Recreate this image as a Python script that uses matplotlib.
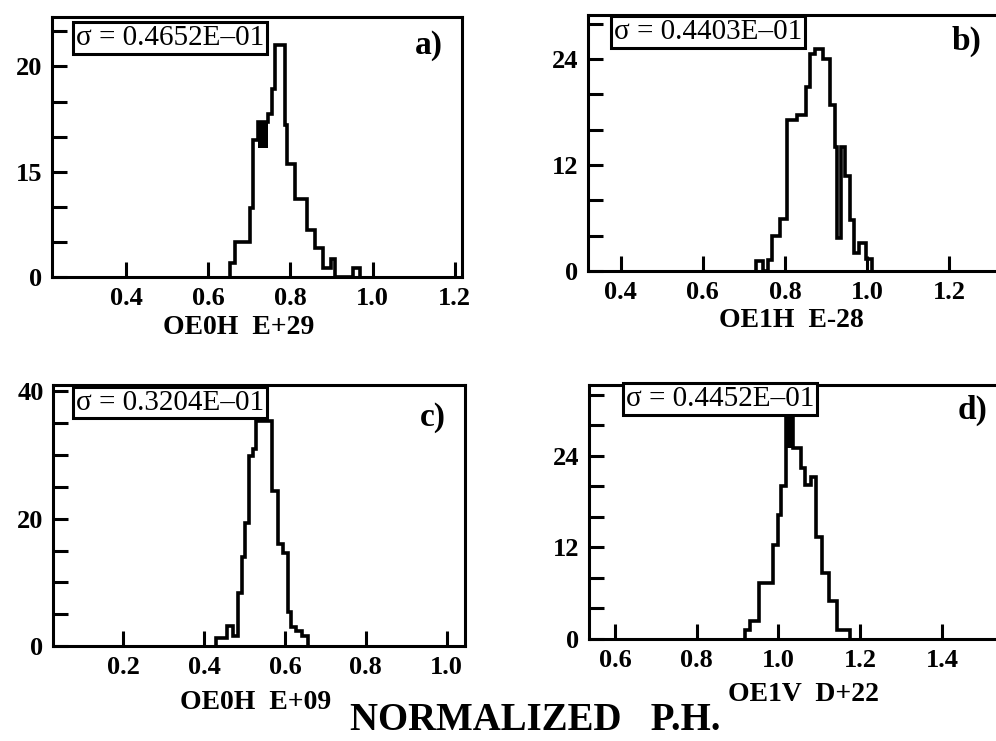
import matplotlib.pyplot as plt
import numpy as np

plt.rcParams['font.family'] = ['Liberation Serif', 'DejaVu Serif']

# histogram edges / counts
a_edges = [0.653, 0.665, 0.702, 0.709, 0.721, 0.746, 0.755, 0.763, 0.787, 0.792,
           0.811, 0.840, 0.860, 0.880, 0.900, 0.909, 0.952, 0.969]
a_counts = [1.3, 3.3, 6.6, 13.0, 14.7, 15.5, 17.9, 22.0, 14.4, 10.7,
            7.4, 4.5, 2.8, 0.9, 1.7, 0, 0.9]
a_blot = [0.721, 0.746, 12.3, 14.7]

b_edges = [0.729, 0.746, 0.759, 0.769, 0.789, 0.806, 0.828, 0.850, 0.862, 0.872,
           0.892, 0.909, 0.921, 0.926, 0.935, 0.947, 0.957, 0.967, 0.980, 0.998, 1.012]
b_counts = [1.1, 0, 1.3, 4.0, 5.9, 17.1, 17.7, 20.8, 24.6, 25.2,
            24.0, 18.8, 14.0, 3.7, 14.0, 10.8, 5.8, 2.0, 3.2, 1.4]

c_edges = [0.429, 0.456, 0.472, 0.485, 0.493, 0.502, 0.511, 0.520, 0.528, 0.567,
           0.583, 0.596, 0.607, 0.615, 0.626, 0.641, 0.656]
c_counts = [1.3, 3.1, 1.6, 8.3, 14.0, 19.4, 29.8, 30.9, 35.3, 24.4,
            16.0, 14.6, 5.4, 3.0, 2.3, 1.6]

d_edges = [0.918, 0.931, 0.953, 0.987, 0.999, 1.006, 1.019, 1.035, 1.055, 1.065,
           1.080, 1.093, 1.106, 1.123, 1.144, 1.175]
d_counts = [1.2, 2.3, 7.3, 12.3, 16.3, 20.1, 29.4, 25.0, 22.4, 20.2,
            21.2, 13.4, 8.6, 5.0, 1.2]
d_blot = [1.019, 1.035, 25.0, 29.4]

sigmas = ["σ = 0.4652E–01", "σ = 0.4403E–01", "σ = 0.3204E–01", "σ = 0.4452E–01"]
tags = ["a)", "b)", "c)", "d)"]
xnames = ["OE0H  E+29", "OE1H  E-28", "OE0H  E+09", "OE1V  D+22"]

a_xticks = [0.4, 0.6, 0.8, 1.0, 1.2]
b_xticks = [0.4, 0.6, 0.8, 1.0, 1.2]
c_xticks = [0.2, 0.4, 0.6, 0.8, 1.0]
d_xticks = [0.6, 0.8, 1.0, 1.2, 1.4]

# y ticks: step between marks and which marks carry a label
a_ystep, a_ylabels = 20 / 6, {0: "0", 3: "15", 6: "20"}
b_ystep, b_ylabels = 4, {0: "0", 3: "12", 6: "24"}
c_ystep, c_ylabels = 5, {0: "0", 4: "20", 8: "40"}
d_ystep, d_ylabels = 4, {0: "0", 3: "12", 6: "24"}

lw = 2.2
fig = plt.figure(figsize=(9.96, 7.41), dpi=100)


def panel(rect, xlim, ylim, edges, counts, xticks, ystep, ylabels,
          sigma, sig_pos, tag, tag_pos, xname, xname_pos, blot=None):
    ax = fig.add_axes(rect)
    ax.stairs(counts, edges, color="black", linewidth=2.6, baseline=0)
    if blot is not None:
        ax.fill_between([blot[0], blot[1]], [blot[2], blot[2]], [blot[3], blot[3]],
                        color="black", linewidth=0)
    ax.set_xlim(*xlim)
    ax.set_ylim(*ylim)
    for s in ax.spines.values():
        s.set_linewidth(lw)
    ax.set_xticks(xticks)
    ax.set_xticklabels(["%.1f" % v for v in xticks])
    n = int(ylim[1] / ystep) + 1
    ax.set_yticks([k * ystep for k in range(n)])
    ax.set_yticklabels([ylabels.get(k, "") for k in range(n)])
    ax.tick_params(direction="in", length=11, width=lw, labelsize=19, pad=7)
    for t in ax.get_xticklabels() + ax.get_yticklabels():
        t.set_fontweight("bold")
    ax.text(sig_pos[0], sig_pos[1], sigma, transform=ax.transAxes, fontsize=21,
            ha="center", va="center",
            bbox=dict(boxstyle="square,pad=0.1", fc="white", ec="black", lw=lw))
    ax.text(tag_pos[0], tag_pos[1], tag, transform=ax.transAxes, fontsize=24,
            fontweight="bold", ha="center", va="center")
    ax.text(xname_pos[0], xname_pos[1], xname, transform=ax.transAxes, fontsize=20,
            fontweight="bold", ha="center", va="center", clip_on=False)
    return ax


panel([0.0522, 0.6262, 0.4116, 0.3509], (0.220, 1.2175), (0, 24.7),
      a_edges, a_counts, a_xticks, a_ystep, a_ylabels,
      sigmas[0], (0.288, 0.918), tags[0], (0.92, 0.89), xnames[0], (0.456, -0.195),
      blot=a_blot)

panel([0.5904, 0.6343, 0.4116, 0.3455], (0.321, 1.318), (0, 29.0),
      b_edges, b_counts, b_xticks, b_ystep, b_ylabels,
      sigmas[1], (0.292, 0.932), tags[1], (0.922, 0.895), xnames[1], (0.495, -0.195))

panel([0.0535, 0.1282, 0.4133, 0.3522], (0.027, 1.045), (0, 41.0),
      c_edges, c_counts, c_xticks, c_ystep, c_ylabels,
      sigmas[2], (0.283, 0.933), tags[2], (0.922, 0.874), xnames[2], (0.492, -0.215))

panel([0.5917, 0.1377, 0.4106, 0.3428], (0.537, 1.538), (0, 33.3),
      d_edges, d_counts, d_xticks, d_ystep, d_ylabels,
      sigmas[3], (0.32, 0.946), tags[3], (0.936, 0.90), xnames[3], (0.523, -0.22),
      blot=d_blot)

fig.text(535 / 996, 1 - 721 / 741, "NORMALIZED   P.H.", fontsize=28,
         fontweight="bold", ha="center", va="center")

fig.savefig("out.png", dpi=100)
